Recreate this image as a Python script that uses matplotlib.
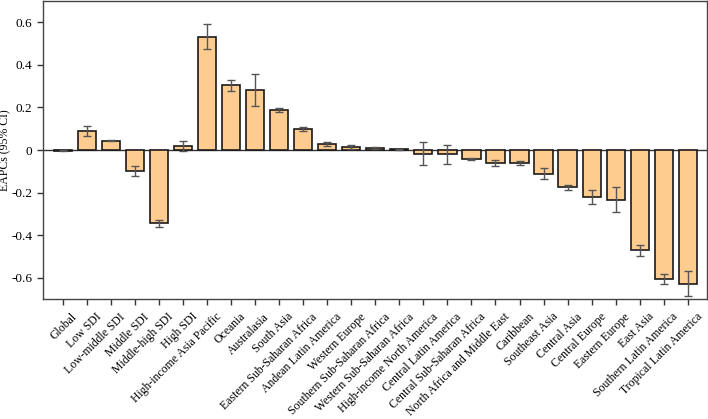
import matplotlib.pyplot as plt
import matplotlib.transforms as mtransforms
import numpy as np

regions = [
    "Global", "Low SDI", "Low-middle SDI", "Middle SDI", "Middle-high SDI", "High SDI",
    "High-income Asia Pacific", "Oceania", "Australasia", "South Asia",
    "Eastern Sub-Saharan Africa", "Andean Latin America", "Western Europe",
    "Southern Sub-Saharan Africa", "Western Sub-Saharan Africa",
    "High-income North America", "Central Latin America", "Central Sub-Saharan Africa",
    "North Africa and Middle East", "Caribbean", "Southeast Asia", "Central Asia",
    "Central Europe", "Eastern Europe", "East Asia", "Southern Latin America",
    "Tropical Latin America",
]

eapc = [-0.003, 0.089, 0.044, -0.100, -0.345, 0.019,
        0.533, 0.305, 0.284, 0.187,
        0.098, 0.028, 0.012,
        0.009, 0.004,
        -0.017, -0.020, -0.042,
        -0.061, -0.063, -0.111, -0.175,
        -0.219, -0.233, -0.470, -0.605,
        -0.628]
ci_low = [-0.005, 0.064, 0.040, -0.122, -0.364, -0.005,
          0.473, 0.279, 0.209, 0.178,
          0.089, 0.021, 0.003,
          0.005, 0.002,
          -0.070, -0.067, -0.047,
          -0.075, -0.072, -0.136, -0.186,
          -0.253, -0.291, -0.497, -0.628,
          -0.685]
ci_high = [-0.001, 0.112, 0.048, -0.075, -0.328, 0.040,
           0.590, 0.331, 0.358, 0.197,
           0.108, 0.036, 0.023,
           0.013, 0.006,
           0.037, 0.025, -0.037,
           -0.047, -0.052, -0.086, -0.164,
           -0.188, -0.173, -0.445, -0.581,
           -0.567]

plt.rcParams['font.family'] = ['Liberation Serif', 'DejaVu Serif']

fig = plt.figure(figsize=(7.08, 4.19), dpi=100)
ax = fig.add_axes([0.0607, 0.2864, 0.938, 0.7112])

x = np.arange(len(regions))
vals = np.array(eapc)
yerr = [vals - np.array(ci_low), np.array(ci_high) - vals]

ax.bar(x, vals, width=0.76, color='#FFCC90', edgecolor='#1a1a1a', linewidth=1.2, zorder=2)
ax.errorbar(x, vals, yerr=yerr, fmt='none', ecolor='#555555', elinewidth=1,
            capsize=3, capthick=1, zorder=3)
ax.axhline(0, color='#333333', linewidth=1, zorder=1)

ax.set_xlim(-0.82, len(regions) - 0.2)
ax.set_ylim(-0.7, 0.7)
ax.set_yticks([-0.6, -0.4, -0.2, 0, 0.2, 0.4, 0.6])
ax.set_yticklabels(['-0.6', '-0.4', '-0.2', '0', '0.2', '0.4', '0.6'], fontsize=9.5)
ax.set_xticks(x)
ax.set_xticklabels(regions, rotation=45, ha='right', rotation_mode='anchor', fontsize=8.5)
ax.set_ylabel('EAPCs (95% CI)', fontsize=8.5)
ax.yaxis.set_label_coords(-0.048, 0.5)
ax.tick_params(axis='both', direction='out', length=4, width=1, color='#333333')

# nudge rotated labels so their end sits a bit right of the tick, like the original
offset = mtransforms.ScaledTranslation(6 / 72, -1 / 72, fig.dpi_scale_trans)
for lbl in ax.get_xticklabels():
    lbl.set_transform(lbl.get_transform() + offset)

for s in ax.spines.values():
    s.set_color('#444444')
    s.set_linewidth(1)

fig.savefig('out.png', dpi=100)
